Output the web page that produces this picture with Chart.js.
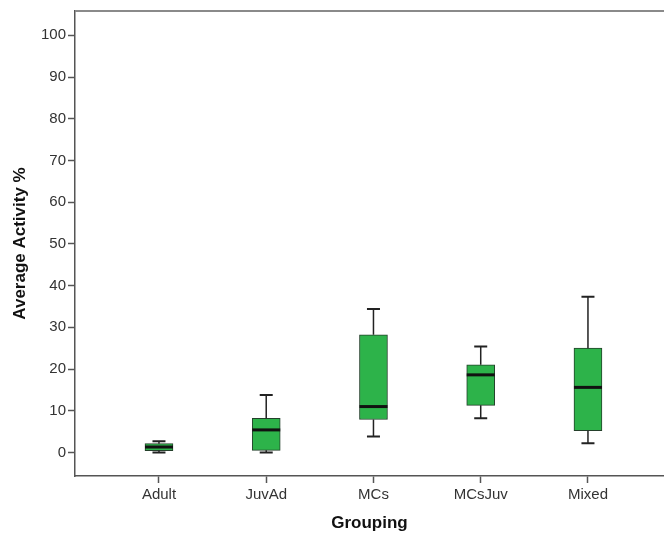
<!DOCTYPE html>
<html lang="en">
<head>
<meta charset="UTF-8">
<title>Average Activity by Grouping</title>
<script src="https://cdn.jsdelivr.net/npm/chart.js"></script>
<style>
  body {
    margin: 0;
    padding: 0;
    background: #fff;
  }
  #wrap {
    width: 664px;
    height: 535px;
  }
</style>
</head>
<body>
<div id="wrap">
  <canvas id="box-chart" width="664" height="535"></canvas>
</div>
<script>
  // values
  const categories = ['Adult', 'JuvAd', 'MCs', 'MCsJuv', 'Mixed'];
  const whiskerLow = [0.0, 0.0, 3.8, 8.2, 2.2];
  const q1 = [0.4, 0.5, 7.9, 11.3, 5.2];
  const median = [1.3, 5.4, 11.0, 18.6, 15.6];
  const q3 = [2.1, 8.2, 28.2, 21.0, 25.0];
  const whiskerHigh = [2.7, 13.8, 34.4, 25.4, 37.3];
  const yTicks = [0, 10, 20, 30, 40, 50, 60, 70, 80, 90, 100];

  const boxData = categories.map((c, i) => ({ x: i + 1, y: [q1[i], q3[i]] }));

  // whiskers, caps and medians, placed through the chart scales
  const boxExtras = {
    id: 'boxExtras',
    afterDatasetsDraw(chart) {
      const ctx = chart.ctx;
      const xs = chart.scales.x;
      const ys = chart.scales.y;
      ctx.save();
      for (let i = 0; i < categories.length; i++) {
        const x = xs.getPixelForValue(i + 1);
        const yLo = ys.getPixelForValue(whiskerLow[i]);
        const yQ1 = ys.getPixelForValue(q1[i]);
        const yQ3 = ys.getPixelForValue(q3[i]);
        const yHi = ys.getPixelForValue(whiskerHigh[i]);
        const yMed = ys.getPixelForValue(median[i]);

        ctx.strokeStyle = '#222';
        ctx.lineWidth = 1.5;
        ctx.beginPath();
        ctx.moveTo(x, yQ3); ctx.lineTo(x, yHi);
        ctx.moveTo(x, yQ1); ctx.lineTo(x, yLo);
        ctx.stroke();

        ctx.lineWidth = 2;
        ctx.beginPath();
        ctx.moveTo(x - 6.5, yHi); ctx.lineTo(x + 6.5, yHi);
        ctx.moveTo(x - 6.5, yLo); ctx.lineTo(x + 6.5, yLo);
        ctx.stroke();

        ctx.strokeStyle = '#111';
        ctx.lineWidth = 3;
        ctx.beginPath();
        ctx.moveTo(x - 14, yMed); ctx.lineTo(x + 14, yMed);
        ctx.stroke();
      }
      // top frame line
      const a = chart.chartArea;
      ctx.strokeStyle = '#8a8a8a';
      ctx.lineWidth = 2;
      ctx.beginPath();
      ctx.moveTo(a.left, a.top);
      ctx.lineTo(a.right, a.top);
      ctx.stroke();
      ctx.restore();
    }
  };

  var ctx = document.getElementById('box-chart').getContext('2d');
  var chart = new Chart(ctx, {
      type: 'bar',
      data: {
          datasets: [{
              data: boxData,
              backgroundColor: '#2db34a',
              borderColor: '#24402b',
              borderWidth: 1,
              borderSkipped: false,
              barThickness: 28
          }]
      },
      plugins: [boxExtras],
      options: {
          responsive: false,
          animation: false,
          layout: {
              padding: { top: 7, right: 0, left: 0, bottom: 0 }
          },
          plugins: {
              legend: { display: false },
              tooltip: { enabled: false }
          },
          scales: {
              x: {
                  type: 'linear',
                  min: 0.217,
                  max: 5.709,
                  offset: false,
                  afterFit: (scale) => { scale.height = 59; },
                  afterBuildTicks: (scale) => {
                      scale.ticks = categories.map((c, i) => ({ value: i + 1 }));
                  },
                  grid: {
                      offset: false,
                      drawOnChartArea: false,
                      drawTicks: true,
                      tickLength: 7,
                      tickWidth: 1.5,
                      color: '#555'
                  },
                  border: { display: true, color: '#555', width: 1.5 },
                  ticks: {
                      padding: 3,
                      color: '#333',
                      font: { family: 'Liberation Sans, Arial, sans-serif', size: 15 },
                      callback: (v) => categories[v - 1]
                  },
                  title: {
                      display: true,
                      text: 'Grouping',
                      color: '#111',
                      padding: { top: 0, bottom: 1 },
                      font: { family: 'Liberation Sans, Arial, sans-serif', size: 17, weight: 'bold' }
                  }
              },
              y: {
                  min: -5.65,
                  max: 105.84,
                  afterFit: (scale) => { scale.width = 75; },
                  afterBuildTicks: (scale) => {
                      scale.ticks = yTicks.map(v => ({ value: v }));
                  },
                  grid: {
                      drawOnChartArea: false,
                      drawTicks: true,
                      tickLength: 7,
                      tickWidth: 1.5,
                      color: '#555'
                  },
                  border: { display: true, color: '#555', width: 1.5 },
                  ticks: {
                      padding: 2,
                      color: '#333',
                      font: { family: 'Liberation Sans, Arial, sans-serif', size: 15 }
                  },
                  title: {
                      display: true,
                      text: 'Average Activity %',
                      color: '#111',
                      padding: { top: 10, bottom: 0 },
                      font: { family: 'Liberation Sans, Arial, sans-serif', size: 17, weight: 'bold' }
                  }
              }
          }
      }
  });
</script>
</body>
</html>
